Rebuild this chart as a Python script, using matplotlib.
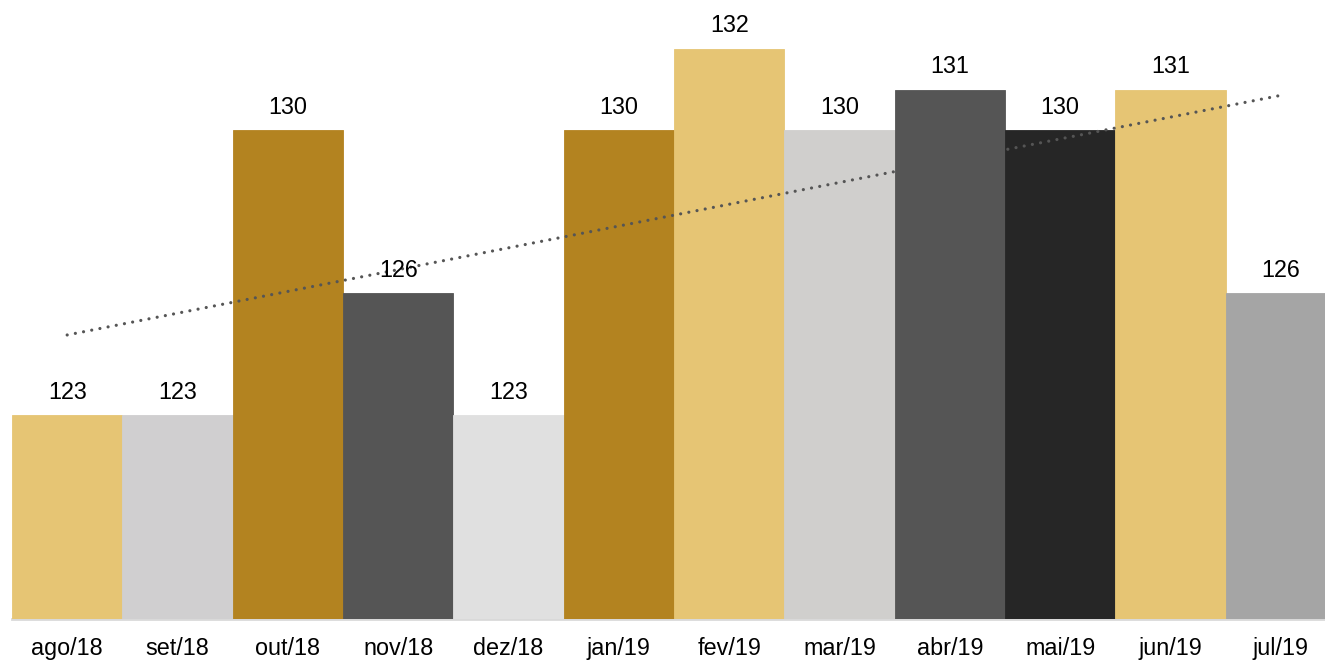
import matplotlib.pyplot as plt
import numpy as np

plt.rcParams["font.family"] = ["Liberation Sans", "DejaVu Sans"]

months = ["ago/18", "set/18", "out/18", "nov/18", "dez/18", "jan/19",
          "fev/19", "mar/19", "abr/19", "mai/19", "jun/19", "jul/19"]
values = [123, 123, 130, 126, 123, 130, 132, 130, 131, 130, 131, 126]
colors = ["#E6C574", "#D0CFD0", "#B38320", "#555555", "#E0E0E0", "#B38320",
          "#E6C574", "#D0CFCD", "#555555", "#262626", "#E6C574", "#A5A5A5"]

fig = plt.figure(figsize=(13.25, 6.61), dpi=100)
ax = fig.add_axes([12 / 1325, 42 / 661, 1313 / 1325, 619 / 661])

x = np.arange(len(values))
ax.bar(x, values, width=1.0, color=colors, edgecolor=colors, linewidth=0.6,
       zorder=2)

# linear trend line
slope, inter = np.polyfit(x, values, 1)
trend = slope * x + inter
ax.plot(x, trend, color="#555555", lw=2.3, linestyle=(0, (0.01, 2.6)),
        dash_capstyle="round", zorder=3)

for xi, v in zip(x, values):
    ax.annotate(str(v), (xi, v), xytext=(0, 12), textcoords="offset points",
                ha="center", va="baseline", fontsize=16.8, color="black")

# last bar is cut off at the right edge in the original
ax.set_xlim(-0.5, 11.4)
ax.set_ylim(118, 133.2)
ax.set_xticks(x)
ax.set_xticklabels(months, fontsize=16.8)
ax.tick_params(axis="x", length=0, pad=13)
ax.set_yticks([])
for s in ["top", "right", "left"]:
    ax.spines[s].set_visible(False)
ax.spines["bottom"].set_color("#D9D9D9")
ax.spines["bottom"].set_linewidth(2)
ax.spines["bottom"].set_zorder(1)

fig.savefig("out.png", dpi=100)
